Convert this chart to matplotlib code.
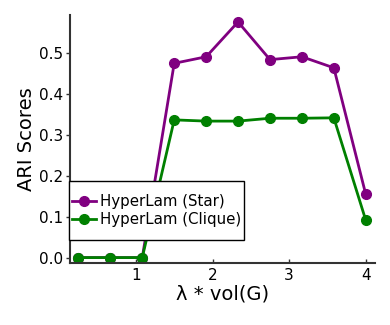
import numpy as np
import matplotlib
matplotlib.use('Agg')
import matplotlib.pyplot as plt
from matplotlib.patches import Rectangle

# lambda * vol(G) grid
lam = [0.25, 0.667, 1.083, 1.5, 1.917, 2.333, 2.75, 3.167, 3.583, 4.0]
ari_star = [0.0, 0.0, 0.0, 0.474, 0.490, 0.575, 0.483, 0.490, 0.463, 0.154]
ari_clique = [0.0, 0.0, 0.0, 0.336, 0.333, 0.333, 0.340, 0.340, 0.341, 0.091]

fig = plt.figure(figsize=(3.9, 3.25), dpi=100)
ax = fig.add_axes([0.1795, 0.191, 0.782, 0.763])

ax.plot(lam, ari_star, color='purple', lw=2, marker='o', ms=7, label='HyperLam (Star)')
ax.plot(lam, ari_clique, color='green', lw=2, marker='o', ms=7, label='HyperLam (Clique)')

ax.set_xlim(0.14, 4.12)
ax.set_ylim(-0.013, 0.592)
ax.set_xticks([1, 2, 3, 4])
ax.set_yticks([0.0, 0.1, 0.2, 0.3, 0.4, 0.5])

for s in ['top', 'right']:
    ax.spines[s].set_visible(False)
for s in ['left', 'bottom']:
    ax.spines[s].set_color('#333333')
    ax.spines[s].set_linewidth(1.5)

ax.tick_params(axis='x', direction='in', length=3, width=1, colors='#333333', labelcolor='black', labelsize=11, pad=4)
ax.tick_params(axis='y', direction='out', length=3, width=1, colors='#333333', labelcolor='black', labelsize=11, pad=2)

ax.set_xlabel('λ * vol(G)', fontsize=14, labelpad=1)
ax.set_ylabel('ARI Scores', fontsize=14, labelpad=2)

# legend box (taller than the text, so drawn by hand)
box = Rectangle((-0.003, 0.093), 0.573, 0.238, transform=ax.transAxes,
                facecolor='white', edgecolor='black', lw=1.0, zorder=5, clip_on=False)
ax.add_patch(box)
leg = ax.legend(loc='center', bbox_to_anchor=(0.2835, 0.212), borderaxespad=0,
                fontsize=10.8, frameon=False,
                handlelength=1.6, handletextpad=0.25, borderpad=0.2, labelspacing=0.2)
leg.set_zorder(6)

fig.savefig('out.png', dpi=100)
